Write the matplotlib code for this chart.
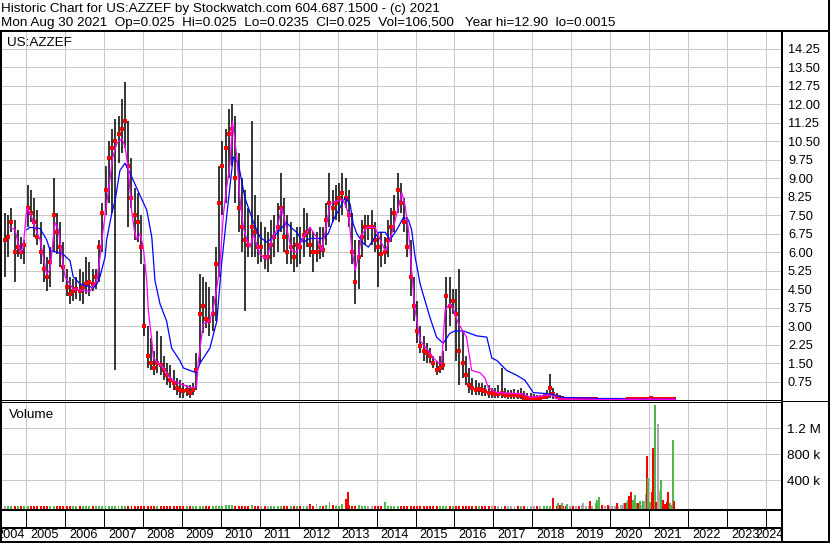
import matplotlib
matplotlib.use('Agg')
import matplotlib.pyplot as plt
from matplotlib.lines import Line2D
import numpy as np
import pandas as pd

plt.rcParams['font.family'] = ['Liberation Sans', 'DejaVu Sans']
plt.rcParams['font.size'] = 9

# ---- monthly bars, Jun 2004 .. Aug 2021 ----
months = pd.date_range('2004-06-01', '2021-08-01', freq='MS')

highs = [
    7.6, 7.5, 7.8, 7.3, 6.9, 6.6, 6.5,                                  # 2004
    8.7, 8.5, 8.2, 7.7, 7.2, 6.3, 5.8, 6.2, 9.0, 7.6, 7.2, 6.4,         # 2005
    5.3, 5.0, 4.9, 5.0, 5.3, 5.2, 5.8, 5.6, 5.3, 5.3, 6.5, 8.0,         # 2006
    9.5, 10.5, 11.0, 11.4, 11.5, 12.2, 12.9, 11.3, 9.8, 8.6, 8.4, 7.5,  # 2007
    5.5, 3.0, 2.5, 2.0, 2.8, 2.6, 1.8, 1.5, 1.4, 1.2, 0.9, 0.8,         # 2008
    0.7, 0.6, 0.6, 0.7, 1.9, 5.1, 5.0, 4.8, 4.6, 4.2, 6.2, 9.5,         # 2009
    10.5, 11.0, 11.8, 12.0, 11.5, 10.0, 9.0, 8.5, 7.8, 11.3, 8.3, 7.5,  # 2010
    7.2, 7.0, 6.8, 7.3, 7.5, 8.0, 9.2, 8.2, 7.5, 7.2, 6.6, 7.0,         # 2011
    7.0, 7.8, 7.6, 7.0, 6.8, 6.8, 7.0, 7.0, 8.0, 9.2, 8.5, 8.7,         # 2012
    8.8, 9.2, 9.0, 8.5, 7.6, 6.5, 6.5, 7.3, 7.5, 7.5, 7.7, 7.2,         # 2013
    6.8, 6.8, 6.6, 7.3, 7.8, 8.3, 9.2, 8.8, 8.2, 7.4, 6.5, 5.0,         # 2014
    4.0, 3.0, 2.6, 2.3, 2.1, 1.8, 1.6, 1.8, 2.0, 5.0, 5.0, 4.5,         # 2015
    4.5, 5.3, 2.8, 1.8, 1.3, 0.9, 0.8, 0.7, 0.7, 0.6, 0.6, 0.5,         # 2016
    0.5, 0.6, 1.3, 0.5, 0.4, 0.4, 0.45, 0.4, 0.5, 0.35, 0.3, 0.3,       # 2017
    0.25, 0.2, 0.2, 0.3, 0.4, 1.05, 0.5, 0.3, 0.2, 0.15, 0.12, 0.1,     # 2018
    0.08, 0.07, 0.07, 0.06, 0.06, 0.06, 0.05, 0.05, 0.05, 0.05, 0.04, 0.04,  # 2019
    0.04, 0.04, 0.05, 0.04, 0.04, 0.05, 0.05, 0.06, 0.05, 0.05, 0.06, 0.08,  # 2020
    0.12, 0.10, 0.08, 0.06, 0.05, 0.05, 0.04, 0.03,                     # 2021
]

lows = [
    5.0, 5.8, 6.8, 4.8, 5.8, 5.7, 5.5,
    7.0, 7.2, 6.6, 6.3, 5.5, 4.8, 4.4, 4.6, 6.0, 5.9, 5.4, 4.8,
    4.2, 3.9, 4.0, 4.1, 4.0, 3.9, 4.3, 4.2, 4.4, 4.5, 4.8, 6.0,
    7.5, 8.0, 7.6, 1.2, 9.6, 10.0, 10.2, 7.0, 7.8, 6.5, 6.4, 5.5,
    2.6, 1.3, 1.2, 1.0, 1.1, 1.0, 0.8, 0.6, 0.5, 0.4, 0.2, 0.1,
    0.1, 0.15, 0.1, 0.2, 0.4, 1.5, 2.7, 2.9, 2.6, 2.8, 3.2, 5.0,
    7.5, 8.0, 9.0, 9.5, 8.0, 6.8, 6.0, 3.6, 5.8, 5.8, 5.8, 5.5,
    5.6, 5.3, 5.2, 5.5, 5.8, 6.0, 6.8, 6.0, 5.5, 5.5, 5.2, 5.4,
    5.5, 5.8, 6.2, 5.8, 5.2, 5.6, 5.7, 5.8, 6.3, 7.0, 7.2, 7.3,
    7.2, 7.5, 7.8, 7.0, 5.5, 3.9, 4.5, 5.8, 6.3, 6.5, 6.3, 6.0,
    4.6, 5.4, 5.5, 5.8, 6.4, 6.8, 7.6, 7.6, 6.8, 5.8, 4.2, 3.2,
    2.3, 1.9, 1.6, 1.5, 1.5, 1.3, 1.0, 1.1, 1.2, 2.0, 3.0, 3.5,
    1.6, 0.6, 0.9, 0.6, 0.3, 0.2, 0.2, 0.2, 0.15, 0.15, 0.1, 0.1,
    0.08, 0.1, 0.1, 0.1, 0.05, 0.05, 0.05, 0.05, 0.05, 0.03, 0.03, 0.03,
    0.05, 0.04, 0.04, 0.05, 0.06, 0.08, 0.06, 0.05, 0.04, 0.03, 0.03, 0.02,
    0.02, 0.02, 0.02, 0.015, 0.015, 0.015, 0.015, 0.015, 0.01, 0.01, 0.01, 0.01,
    0.01, 0.01, 0.01, 0.01, 0.01, 0.01, 0.01, 0.015, 0.015, 0.015, 0.015, 0.02,
    0.03, 0.03, 0.025, 0.02, 0.02, 0.02, 0.02, 0.0235,
]

closes = [
    6.5, 6.6, 7.2, 6.0, 6.2, 6.0, 6.3,
    7.8, 7.6, 7.2, 6.6, 6.0, 5.3, 5.0, 5.6, 7.5, 6.8, 6.2, 5.4,
    4.6, 4.3, 4.4, 4.5, 4.4, 4.6, 4.7, 4.8, 4.7, 5.0, 6.2, 7.6,
    8.5, 9.8, 10.2, 10.5, 10.8, 11.0, 11.3, 9.5, 8.2, 7.5, 7.2, 6.2,
    3.0, 1.8, 1.5, 1.3, 1.5, 1.4, 1.2, 1.0, 0.8, 0.7, 0.5, 0.4,
    0.35, 0.4, 0.3, 0.4, 1.2, 3.5, 3.8, 3.3, 3.2, 3.5, 5.5, 8.0,
    9.5, 10.2, 10.8, 11.0, 9.0, 7.8, 7.0, 6.5, 6.3, 7.0, 6.8, 6.2,
    6.2, 5.8, 5.8, 6.3, 6.6, 7.0, 7.8, 6.6, 6.0, 6.2, 5.8, 6.3,
    6.2, 6.7, 6.8, 6.3, 6.0, 6.0, 6.2, 6.1, 7.3, 8.0, 7.8, 8.0,
    8.2, 8.4, 8.2, 7.5, 6.0, 4.8, 5.8, 6.6, 7.0, 7.0, 7.0, 6.5,
    6.2, 5.9, 6.0, 6.5, 7.0, 7.6, 8.5, 8.0, 7.2, 6.2, 5.0, 3.8,
    2.8, 2.2, 2.0, 1.9, 1.8, 1.5, 1.2, 1.3, 1.4, 4.2, 3.8, 4.0,
    3.5, 2.0, 1.5, 1.0, 0.6, 0.5, 0.4, 0.45, 0.4, 0.35, 0.3, 0.3,
    0.25, 0.25, 0.3, 0.2, 0.2, 0.2, 0.2, 0.15, 0.2, 0.1, 0.1, 0.1,
    0.1, 0.08, 0.08, 0.12, 0.15, 0.5, 0.25, 0.12, 0.08, 0.06, 0.05, 0.05,
    0.04, 0.04, 0.03, 0.03, 0.03, 0.03, 0.03, 0.03, 0.02, 0.02, 0.02, 0.02,
    0.02, 0.02, 0.02, 0.02, 0.02, 0.025, 0.03, 0.03, 0.03, 0.03, 0.035, 0.05,
    0.07, 0.05, 0.04, 0.03, 0.03, 0.03, 0.025, 0.025,
]

# monthly volume, thousands of shares
volume_k = [
    6, 4, 5, 3, 4, 5, 4,
    5, 4, 6, 3, 4, 5, 3, 6, 8, 5, 4, 3,
    3, 4, 3, 5, 4, 3, 4, 3, 5, 4, 6, 5,
    8, 6, 10, 7, 5, 6, 8, 5, 4, 6, 5, 4,
    6, 5, 8, 4, 5, 8, 5, 4, 6, 5, 4, 3,
    3, 2, 3, 4, 6, 8, 5, 4, 6, 5, 10, 8,
    12, 15, 20, 20, 8, 6, 10, 8, 12, 25, 10, 6,
    5, 4, 6, 4, 5, 6, 8, 5, 4, 6, 5, 4,
    5, 6, 8, 40, 10, 40, 8, 12, 15, 60, 15, 10,
    12, 40, 117, 25, 10, 8, 25, 10, 8, 6, 8, 5,
    6, 5, 66, 8, 6, 5, 4, 6, 5, 8, 6, 4,
    5, 4, 6, 5, 4, 5, 6, 4, 10, 6, 5, 4,
    5, 6, 4, 3, 4, 3, 4, 3, 4, 3, 5, 4,
    4, 3, 3, 4, 3, 3, 4, 3, 4, 3, 4, 5,
    6, 4, 4, 5, 8, 10, 8, 12, 15, 10, 8, 6,
    6, 8, 10, 8, 6, 5, 8, 10, 6, 8, 10, 8,
    10, 8, 12, 15, 10, 12, 15, 20, 15, 20, 25, 30,
    40, 30, 25, 20, 20, 15, 15, 10,
]

# individual heavy-volume sessions (decimal year, thousands, r/g/grey)
spike_year = [2013.26, 2018.52, 2018.67, 2018.76, 2018.88, 2019.27, 2019.31, 2019.48,
              2019.63, 2019.67, 2019.71, 2019.80, 2019.95, 2020.17, 2020.28, 2020.34,
              2020.38, 2020.42, 2020.46, 2020.49, 2020.53, 2020.58, 2020.64, 2020.69,
              2020.72, 2020.76, 2020.84, 2020.89, 2020.92, 2020.95, 2020.98, 2021.02,
              2021.06, 2021.10, 2021.15, 2021.18, 2021.22, 2021.25, 2021.30, 2021.33,
              2021.36, 2021.41, 2021.45, 2021.49, 2021.54, 2021.58, 2021.60, 2021.64]
spike_k = [225, 132, 46, 55, 30, 20, 46, 81,
           46, 97, 148, 25, 20, 55, 20, 55,
           46, 71, 97, 158, 220, 97, 174, 55,
           46, 81, 81, 81, 189, 774, 435, 60,
           225, 892, 1558, 60, 1266, 240, 404, 46,
           97, 30, 60, 220, 46, 20, 1020, 81]
spike_col = ['r', 'r', 'g', 'g', 'g', 'k', 'k', 'r',
             'g', 'g', 'g', 'r', 'r', 'r', 'k', 'k',
             'r', 'g', 'g', 'r', 'r', 'g', 'g', 'g',
             'r', 'g', 'g', 'k', 'k', 'r', 'g', 'g',
             'r', 'r', 'g', 'r', 'k', 'k', 'g', 'g',
             'r', 'r', 'r', 'r', 'g', 'g', 'g', 'r']

# moving averages as drawn (decimal year, price)
short_ma = [(2004.59, 7.0), (2004.72, 6.9), (2004.85, 6.0), (2004.93, 6.2), (2004.97, 6.9),
            (2005.02, 7.8), (2005.15, 7.4), (2005.23, 7.0), (2005.36, 6.5), (2005.53, 5.1),
            (2005.62, 5.3), (2005.74, 7.2), (2005.83, 6.9), (2005.92, 5.9), (2006.00, 5.0),
            (2006.21, 4.5), (2006.64, 4.4), (2006.82, 4.85), (2006.90, 5.8), (2006.98, 6.9),
            (2007.16, 9.0), (2007.22, 9.8), (2007.33, 10.4), (2007.46, 10.6), (2007.54, 10.3),
            (2007.63, 9.3), (2007.71, 7.7), (2007.78, 6.9), (2007.84, 6.5), (2007.93, 6.75),
            (2008.01, 6.2), (2008.10, 4.85), (2008.14, 3.65), (2008.23, 2.4), (2008.27, 1.7),
            (2008.40, 1.5), (2008.53, 1.3), (2008.70, 0.9), (2008.87, 0.7), (2009.25, 0.5),
            (2009.38, 0.55), (2009.42, 1.5), (2009.55, 3.1), (2009.72, 3.2), (2009.81, 3.75),
            (2009.90, 4.55), (2009.98, 5.5), (2010.07, 7.55), (2010.15, 8.6), (2010.24, 9.6),
            (2010.30, 11.3), (2010.41, 9.9), (2010.49, 8.2), (2010.58, 7.0), (2010.67, 6.5),
            (2010.75, 6.2), (2010.84, 6.7), (2011.01, 5.9), (2011.18, 5.7), (2011.31, 6.5),
            (2011.44, 6.9), (2011.56, 7.8), (2011.69, 7.0), (2011.82, 6.05), (2011.95, 6.0),
            (2012.12, 6.6), (2012.29, 7.0), (2012.46, 6.6), (2012.59, 6.05), (2012.72, 7.15),
            (2012.81, 7.95), (2013.02, 8.1), (2013.15, 8.1), (2013.28, 7.55), (2013.36, 6.2),
            (2013.45, 5.25), (2013.53, 5.8), (2013.62, 6.7), (2013.75, 7.0), (2013.96, 7.0),
            (2014.09, 6.5), (2014.22, 6.05), (2014.35, 6.5), (2014.52, 7.55), (2014.65, 8.4),
            (2014.73, 7.9), (2014.82, 6.9), (2014.90, 5.25), (2014.99, 3.65), (2015.12, 2.4),
            (2015.33, 2.0), (2015.46, 1.7), (2015.59, 1.5), (2015.67, 1.5), (2015.76, 3.65),
            (2015.88, 3.9), (2015.97, 3.7), (2016.10, 3.1), (2016.31, 2.55), (2016.44, 1.2),
            (2016.66, 1.1), (2016.78, 0.9), (2016.87, 0.5), (2017.09, 0.3), (2017.77, 0.25),
            (2017.94, 0.1), (2018.40, 0.2), (2018.50, 0.2), (2018.62, 0.05), (2019.00, 0.03),
            (2020.00, 0.02), (2021.00, 0.03), (2021.67, 0.025)]

long_ma = [(2005.02, 6.9), (2005.10, 7.0), (2005.36, 6.95), (2005.53, 6.5), (2005.62, 6.05),
           (2005.79, 6.0), (2005.96, 5.9), (2006.13, 5.65), (2006.21, 5.0), (2006.39, 4.7),
           (2006.73, 4.55), (2006.82, 4.7), (2006.90, 5.0), (2007.03, 5.8), (2007.07, 6.5),
           (2007.20, 7.55), (2007.29, 8.1), (2007.41, 9.3), (2007.54, 9.6), (2007.67, 9.2),
           (2007.84, 8.6), (2008.10, 7.7), (2008.23, 6.6), (2008.31, 4.85), (2008.44, 3.9),
           (2008.61, 3.2), (2008.74, 2.1), (2008.95, 1.6), (2009.04, 1.3), (2009.38, 1.1),
           (2009.47, 1.5), (2009.72, 2.1), (2009.90, 3.2), (2010.02, 5.5), (2010.19, 8.0),
           (2010.32, 9.85), (2010.45, 9.6), (2010.62, 8.2), (2010.84, 7.2), (2011.01, 6.6),
           (2011.18, 6.4), (2011.35, 6.6), (2011.52, 6.9), (2011.69, 7.2), (2011.80, 7.0),
           (2011.95, 6.8), (2012.12, 6.4), (2012.29, 6.55), (2012.63, 6.55), (2012.76, 6.75),
           (2012.89, 7.3), (2013.06, 7.8), (2013.19, 8.2), (2013.32, 7.95), (2013.40, 7.15),
           (2013.49, 6.75), (2013.66, 6.35), (2013.79, 6.2), (2013.92, 6.5), (2014.05, 6.8),
           (2014.22, 6.8), (2014.35, 6.5), (2014.52, 6.9), (2014.69, 7.4), (2014.82, 7.3),
           (2014.90, 6.9), (2014.99, 5.8), (2015.12, 4.7), (2015.24, 4.05), (2015.37, 3.35),
           (2015.54, 2.55), (2015.71, 2.3), (2015.88, 2.7), (2016.01, 2.8), (2016.23, 2.8),
           (2016.40, 2.7), (2016.57, 2.6), (2016.83, 2.55), (2016.96, 1.7), (2017.09, 1.6),
           (2017.34, 1.2), (2017.60, 1.0), (2017.81, 0.8), (2017.94, 0.5), (2018.02, 0.3),
           (2018.45, 0.25), (2018.79, 0.1), (2019.48, 0.08), (2019.60, 0.06), (2020.30, 0.06),
           (2020.40, 0.03), (2021.67, 0.03)]

price_ticks = [0.75, 1.50, 2.25, 3.00, 3.75, 4.50, 5.25, 6.00, 6.75, 7.50,
               8.25, 9.00, 9.75, 10.50, 11.25, 12.00, 12.75, 13.50, 14.25]
vol_ticks = [400, 800, 1200]
vol_tick_labels = ['400 k', '800 k', '1.2 M']
years = list(range(2004, 2025))

header1 = 'Historic Chart for US:AZZEF by Stockwatch.com 604.687.1500 - (c) 2021'
header2 = ('Mon Aug 30 2021  Op=0.025  Hi=0.025  Lo=0.0235  Cl=0.025  '
           'Vol=106,500   Year hi=12.90  lo=0.0015')

# ---- layout (pixel based, 830 x 543) ----
W, H = 830, 543
PX_PER_YEAR = 38.95
X2005 = 26
BIG = 9.7   # header / panel captions
SMALL = 9.2 # axis labels


def px_to_year(px):
    return 2005 + (px - X2005) / PX_PER_YEAR


def box(x0, y0, x1, y1):
    return [x0 / W, 1 - y1 / H, (x1 - x0) / W, (y1 - y0) / H]


fig = plt.figure(figsize=(W / 100, H / 100), dpi=100)


def hline(y, x0, x1, px=2):
    fig.add_artist(Line2D([x0 / W, x1 / W], [1 - y / H, 1 - y / H], color='black',
                          lw=px * 0.72, transform=fig.transFigure, solid_capstyle='butt'))


def vline(x, y0, y1, px=2):
    fig.add_artist(Line2D([x / W, x / W], [1 - y0 / H, 1 - y1 / H], color='black',
                          lw=px * 0.72, transform=fig.transFigure, solid_capstyle='butt'))


xlim = (px_to_year(2), px_to_year(782))
t = months.year + (months.month - 0.5) / 12.0
grid_kw = dict(color='#C8C8C8', lw=0.72)

# price panel
ax = fig.add_axes(box(2, 31, 782, 400))
ax.set_xlim(*xlim)
ax.set_ylim(0, 14.96)
ax.set_xticks(years[1:])
ax.set_yticks(price_ticks)
ax.set_yticklabels([f'{v:.2f}' for v in price_ticks], fontsize=SMALL)
ax.grid(True, **grid_kw)
ax.set_axisbelow(True)
ax.tick_params(axis='x', length=0, labelbottom=False)
ax.tick_params(axis='y', length=0, left=False, labelleft=False, labelright=True, pad=4.3)
for s in ax.spines.values():
    s.set_visible(False)

ax.vlines(t, lows, highs, color='black', lw=1.1, zorder=2)
ax.plot(t, closes, 's', color='#FF0000', ms=2.2, mew=0, zorder=3)
st, sv = zip(*short_ma)
lt, lv = zip(*long_ma)
ax.plot(lt, lv, color='#0000FF', lw=0.9, zorder=4)
ax.plot(st, sv, color='#FF00FF', lw=0.9, zorder=5)

# volume panel
col_map = {'r': '#FF0000', 'g': '#4DB84D', 'k': '#A8A8A8'}
axv = fig.add_axes(box(2, 402, 782, 509.5))
vbot = -49
axv.set_xlim(*xlim)
axv.set_ylim(vbot, 1605)
axv.set_xticks(years[1:])
axv.set_yticks(vol_ticks)
axv.set_yticklabels(vol_tick_labels, fontsize=BIG)
axv.grid(True, **grid_kw)
axv.set_axisbelow(True)
axv.tick_params(axis='x', length=0, labelbottom=False)
axv.tick_params(axis='y', length=0, left=False, labelleft=False, labelright=True, pad=3.6)
for s in axv.spines.values():
    s.set_visible(False)

chg = np.diff(np.r_[closes[0], closes])
mcol = [col_map['g'] if c > 0 else col_map['r'] if c < 0 else col_map['k'] for c in chg]
vk = np.array(volume_k)
axv.bar(t, vk - vbot, bottom=vbot, width=0.05, color=mcol, zorder=2)
sk = np.array(spike_k)
axv.bar(spike_year, sk - vbot, bottom=vbot, width=0.05,
        color=[col_map[c] for c in spike_col], zorder=3)

# year strip
axx = fig.add_axes(box(2, 509.5, 782, 541))
axx.set_xlim(*xlim)
axx.set_ylim(0, 1)
axx.axis('off')
tick_low = (541 - 527.5) / 31.5
axx.vlines(years[1:], tick_low, 1, color='black', lw=0.72)
for y in years:
    if y == 2004:
        axx.text(px_to_year(25), 0.08, str(y), ha='right', va='baseline', fontsize=SMALL)
    elif y == 2024:
        axx.text(px_to_year(755), 0.08, str(y), ha='left', va='baseline', fontsize=SMALL)
    else:
        axx.text(y + 4 / PX_PER_YEAR, 0.08, str(y), ha='left', va='baseline', fontsize=SMALL)

# texts
fig.text(1 / W, 1 - 11.7 / H, header1, fontsize=BIG, va='baseline')
fig.text(1 / W, 1 - 26 / H, header2, fontsize=BIG, va='baseline')
fig.text(7.5 / W, 1 - 46 / H, 'US:AZZEF', fontsize=BIG, va='baseline')
fig.text(9 / W, 1 - 417.7 / H, 'Volume', fontsize=BIG, va='baseline')

# frame lines
hline(30.5, 0, 830)
vline(1, 30, 542)
vline(828.5, 0, 543)
vline(782, 30, 542)
hline(399.7, 0, 782, 1)
hline(402, 0, 782, 1)
hline(401, 782, 829, 1)
hline(509.5, 0, 782)
hline(527.5, 0, 782)
hline(541.5, 0, 830)

fig.savefig('out.png', dpi=100)
